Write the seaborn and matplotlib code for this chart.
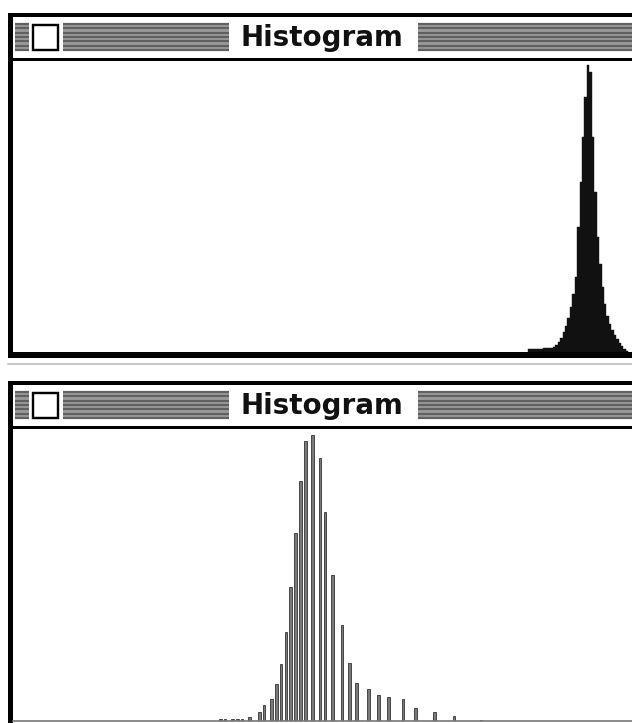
import numpy as np
import pandas as pd
import seaborn as sns
import matplotlib.pyplot as plt
from matplotlib.patches import Rectangle

upper_levels = list(range(212, 253))
upper_counts = [3, 3, 3, 3, 3, 3, 4, 4, 4, 4,
                5, 7, 10, 14,
                20, 26, 34, 45, 58, 75, 125, 170, 215, 255, 287, 280, 215,
                160, 115, 88, 65, 48, 36, 28, 22, 17, 13, 9, 6, 3, 1]

lower_levels = [85, 87, 90, 92, 94, 97, 101, 103, 106, 108, 110, 112, 114, 116,
                118, 120, 123, 126, 128, 131, 135, 138, 141, 146, 150, 154,
                160, 165, 173, 181, 192]
lower_counts = [2, 2, 2, 2, 2, 4, 9, 16, 22, 37, 57, 89, 134, 188,
                240, 280, 286, 263, 209, 146, 96, 58, 38, 32, 26, 24,
                22, 13, 9, 5, 1]

window_title = "Histogram"

W, H = 632, 723
sns.set_theme(style="white")
plt.rcParams['font.family'] = ['DejaVu Sans']

fig = plt.figure(figsize=(W / 100, H / 100), dpi=100)
fig.patch.set_facecolor("white")

# chrome layer in pixel coordinates (y downwards)
bg = fig.add_axes([0, 0, 1, 1])
bg.set_xlim(0, W)
bg.set_ylim(H, 0)
bg.set_axis_off()


def px(v):
    return v * 0.72  # pixel -> points at 100 dpi


def rect(x0, y0, x1, y1, fc, ec="none", lw=0, z=3):
    bg.add_patch(Rectangle((x0, y0), x1 - x0, y1 - y0, facecolor=fc,
                           edgecolor=ec, linewidth=lw, zorder=z))


def window_chrome(top, bottom=None):
    # outer black frame
    rect(8, top, W + 5, top + 4, "black")
    rect(8, top, 13, bottom + 6 if bottom else H + 5, "black")
    # pinstriped title bar
    rect(15, top + 10, W + 5, top + 38, "#9a9a9a", z=1)
    for k in range(7):
        yy = top + 11 + k * 4.3
        bg.plot([15, W], [yy, yy], color="#606060", lw=px(2.2),
                solid_capstyle="butt", zorder=2)
    # close box
    rect(29, top + 7, 63, top + 41, "white")
    rect(33, top + 12, 58, top + 37, "white", ec="black", lw=px(2.4), z=4)
    # title
    rect(229, top + 7, 418, top + 41, "white")
    bg.text(322, top + 25, window_title, ha="center", va="center",
            fontsize=20, fontweight="bold", color="#111111", zorder=5)
    # line under title bar
    rect(13, top + 44.5, W + 5, top + 47.5, "black")
    if bottom:
        rect(8, bottom, W + 5, bottom + 6, "black")
        bg.plot([8, W], [bottom + 12, bottom + 12], color="#c8c8c8",
                lw=px(2), zorder=2)


window_chrome(13, 352)
window_chrome(381)


def hist_axes(top, bottom):
    return fig.add_axes([13 / W, (H - bottom) / H, (W - 13) / W,
                         (bottom - top) / H])


ax1 = hist_axes(61, 352)
sns.histplot(x=upper_levels, weights=upper_counts, discrete=True, shrink=1,
             color="#111111", edgecolor="#111111", linewidth=0.3, alpha=1,
             ax=ax1)
ax1.set_ylim(0, 291)

ax2 = hist_axes(431, 721)
sns.histplot(x=lower_levels, weights=lower_counts, discrete=True, shrink=1.15,
             color="#7a7a7a", edgecolor="#333333", linewidth=0.6, alpha=1,
             ax=ax2)
ax2.set_ylim(0, 290)

for ax in (ax1, ax2):
    ax.set_xlim(0, 254)
    ax.set_facecolor("none")
    ax.set_xticks([])
    ax.set_yticks([])
    ax.set_xlabel("")
    ax.set_ylabel("")
    for s in ax.spines.values():
        s.set_visible(False)
ax2.spines["bottom"].set_visible(True)
ax2.spines["bottom"].set_color("#777777")
ax2.spines["bottom"].set_linewidth(1.2)

fig.savefig("out.png", dpi=100)
